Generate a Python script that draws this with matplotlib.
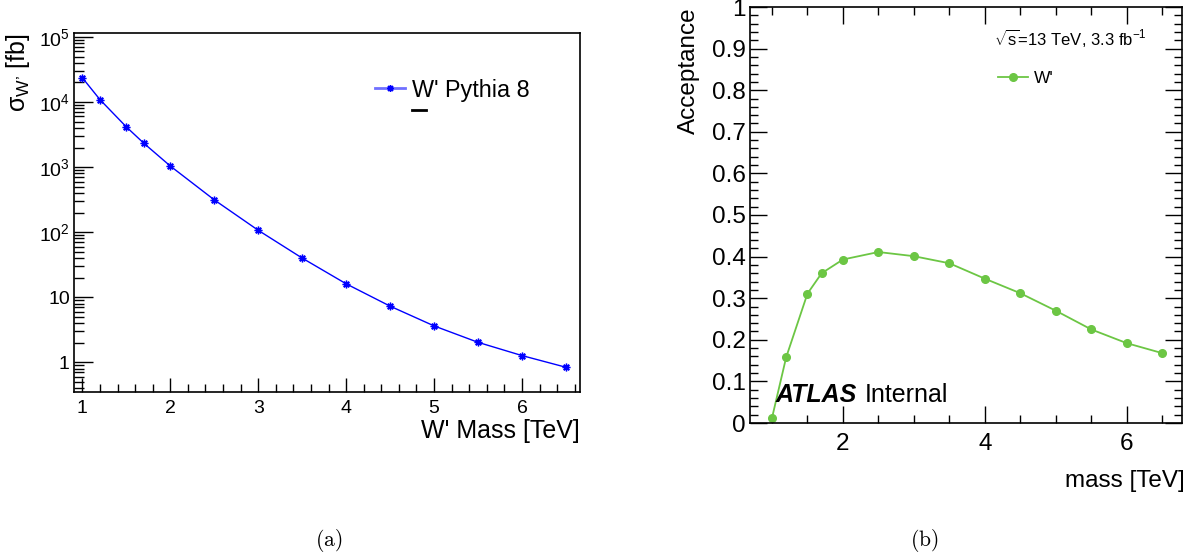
import matplotlib
matplotlib.use("Agg")
import matplotlib.pyplot as plt
from matplotlib.ticker import MultipleLocator, FixedLocator, LogLocator, NullFormatter, FixedFormatter
from matplotlib.lines import Line2D

plt.rcParams['font.family'] = ['Liberation Sans', 'DejaVu Sans']
plt.rcParams['mathtext.fontset'] = 'custom'
plt.rcParams['mathtext.rm'] = 'Liberation Sans'
plt.rcParams['mathtext.it'] = 'Liberation Sans:italic'
plt.rcParams['mathtext.bf'] = 'Liberation Sans:bold'

# W' signal points
mass = [1.0, 1.2, 1.5, 1.7, 2.0, 2.5, 3.0, 3.5, 4.0, 4.5, 5.0, 5.5, 6.0, 6.5]
xsec_fb = [23600, 10900, 4150, 2320, 1040, 314, 107, 40.0, 16.1, 7.3, 3.63, 2.03, 1.27, 0.84]
acceptance = [0.012, 0.158, 0.311, 0.360, 0.393, 0.411, 0.401, 0.384, 0.347, 0.312, 0.270, 0.225, 0.192, 0.168]

log_ticks = [1, 10, 100, 1000, 10000, 100000]
log_labels = ['1', '10', r'$10^{2}$', r'$10^{3}$', r'$10^{4}$', r'$10^{5}$']

blue = '#0000ff'
green = '#6cc644'

fig = plt.figure(figsize=(11.91, 5.6), dpi=100)

# ---- (a) cross section ----
ax1 = fig.add_axes([74 / 1191, 1 - 392 / 560, 506 / 1191, 359 / 560])
ax1.plot(mass, xsec_fb, color=blue, lw=1.0, marker=(8, 2, 0), ms=5.5, mew=1.0, mec=blue)
ax1.set_yscale('log')
ax1.set_xlim(0.905, 6.66)
ax1.set_ylim(0.35, 1.15e5)
ax1.yaxis.set_major_locator(FixedLocator(log_ticks))
ax1.yaxis.set_major_formatter(FixedFormatter(log_labels))
ax1.yaxis.set_minor_locator(LogLocator(base=10, subs=range(2, 10), numticks=20))
ax1.yaxis.set_minor_formatter(NullFormatter())
ax1.xaxis.set_major_locator(MultipleLocator(1))
ax1.xaxis.set_minor_locator(MultipleLocator(0.2))
ax1.tick_params(which='both', direction='in', labelsize=14, top=False, right=False)
ax1.tick_params(which='major', length=14, width=1.0)
ax1.tick_params(which='minor', length=7, width=1.0)
ax1.tick_params(axis='y', pad=3)
ax1.tick_params(axis='x', which='major', length=10, pad=6)
ax1.tick_params(axis='x', which='minor', length=6)
for s in ax1.spines.values():
    s.set_linewidth(1.2)
ax1.set_xlabel("W' Mass [TeV]", fontsize=18, loc='right')
ax1.xaxis.set_label_coords(1.0, -0.075)
ax1.set_ylabel("σ$_{\\mathrm{W\u2019}}$ [fb]", fontsize=18, loc='top')
ax1.yaxis.set_label_coords(-0.083, 1.0)

ax1.legend([Line2D([], [], color='#7070ff', lw=2, marker=(8, 2, 0), ms=5, mec=blue)],
           ["W' Pythia 8"], loc='center left', bbox_to_anchor=(0.595, 0.841),
           frameon=False, fontsize=16.8, handlelength=1.3, handletextpad=0.3,
           borderpad=0, borderaxespad=0)
ax1.add_line(Line2D([0.668, 0.695], [0.786, 0.786], transform=ax1.transAxes, color='black', lw=2))

# ---- (b) acceptance ----
ax2 = fig.add_axes([750 / 1191, 1 - 423 / 560, 432 / 1191, 416 / 560])
ax2.plot(mass, acceptance, color=green, lw=1.3, marker='o', ms=5.5)
ax2.set_xlim(0.69, 6.78)
ax2.set_ylim(0, 1)
ax2.xaxis.set_major_locator(MultipleLocator(2))
ax2.xaxis.set_minor_locator(MultipleLocator(0.5))
ax2.yaxis.set_major_locator(MultipleLocator(0.1))
ax2.yaxis.set_minor_locator(MultipleLocator(0.02))
ax2.yaxis.set_major_formatter(plt.FuncFormatter(lambda v, p: '0' if abs(v) < 1e-9 else ('1' if abs(v - 1) < 1e-9 else f'{v:.1f}')))
ax2.tick_params(which='both', direction='in', labelsize=17.5, top=True, right=True)
ax2.tick_params(which='major', length=12, width=1.0)
ax2.tick_params(which='minor', length=6, width=1.0)
ax2.tick_params(axis='y', pad=3)
ax2.tick_params(axis='x', pad=7)
for s in ax2.spines.values():
    s.set_linewidth(1.2)
ax2.set_xlabel('mass [TeV]', fontsize=17.5, loc='right')
ax2.xaxis.set_label_coords(1.007, -0.113)
ax2.set_ylabel('Acceptance', fontsize=17.5, loc='top')
ax2.yaxis.set_label_coords(-0.116, 1.0)

ax2.text(0.565, 0.909, r"$\sqrt{\mathrm{s}}$=13 TeV, 3.3 fb$^{-1}$", transform=ax2.transAxes,
         fontsize=12, va='baseline', ha='left')
ax2.legend(["W'"], loc='center left', bbox_to_anchor=(0.574, 0.829), frameon=False,
           fontsize=12.5, handlelength=1.75, handletextpad=0.3, borderpad=0, borderaxespad=0)
ax2.text(0.058, 0.05, 'ATLAS', transform=ax2.transAxes, fontsize=18, fontweight='bold',
         fontstyle='italic', va='baseline')
ax2.text(0.266, 0.05, 'Internal', transform=ax2.transAxes, fontsize=18, va='baseline')

fig.text(329 / 1191, 1 - 540 / 560, r'$\mathrm{(a)}$', math_fontfamily='cm', fontsize=15.5, ha='center', va='center')
fig.text(924 / 1191, 1 - 540 / 560, r'$\mathrm{(b)}$', math_fontfamily='cm', fontsize=15.5, ha='center', va='center')

fig.savefig('out.png', dpi=100)
